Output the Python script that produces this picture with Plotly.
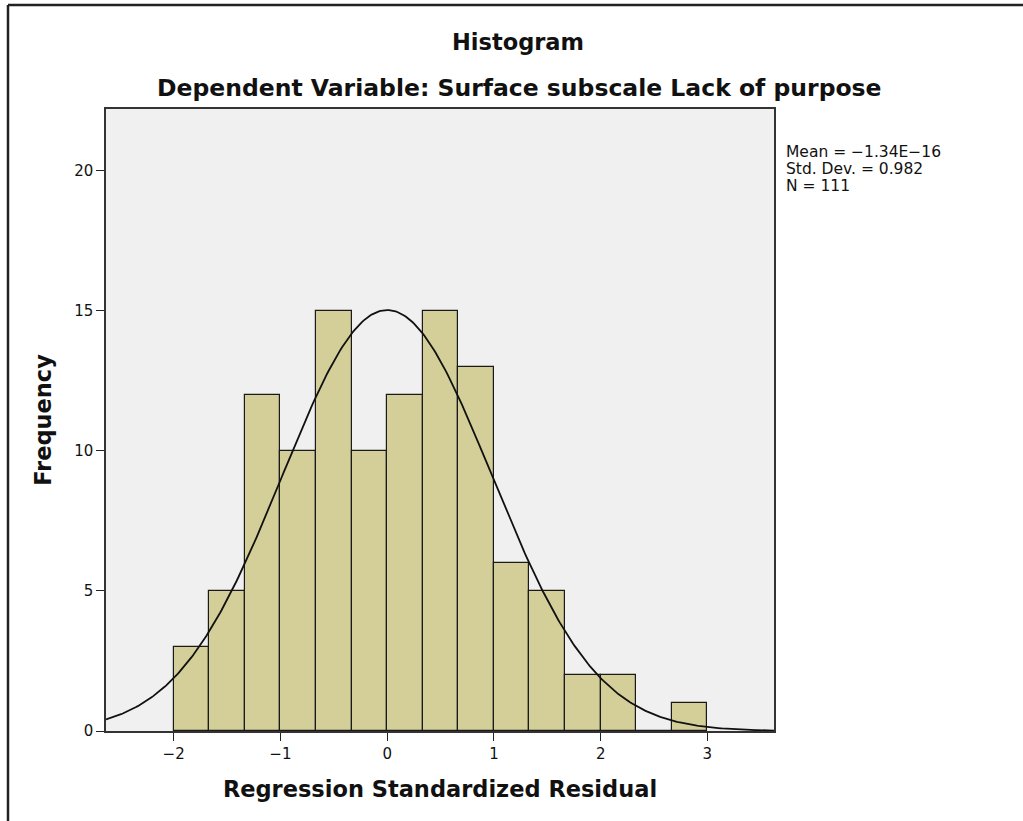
import numpy as np
import plotly.graph_objects as go

# Histogram of regression standardized residuals (bin width 1/3)
bin_left = [-2.0, -5/3, -4/3, -1.0, -2/3, -1/3, 0.0, 1/3, 2/3, 1.0, 4/3, 5/3, 2.0, 7/3, 8/3]
frequency = [3, 5, 12, 10, 15, 10, 12, 15, 13, 6, 5, 2, 2, 0, 1]
bin_width = 1/3

# Summary statistics shown beside the plot
mean_val = -1.34e-16
std_dev = 0.982
n_obs = 111
stats_lines = ["Mean = −1.34E−16", f"Std. Dev. = {std_dev:.3f}", f"N = {n_obs}"]

x_ticks = [-2, -1, 0, 1, 2, 3]
y_ticks = [0, 5, 10, 15, 20]

W, H = 1023, 821
L, R, T, B = 106, 774, 109, 731  # plot area in pixels

centers = [b + bin_width / 2 for b in bin_left]

fig = go.Figure()
fig.add_trace(go.Bar(
    x=centers, y=frequency, width=bin_width,
    marker=dict(color="#d4cf98", line=dict(color="#1a1a1a", width=1.2)),
    hoverinfo="x+y", showlegend=False,
))

# Normal curve scaled to counts per bin
xs = np.linspace(-2.634, 3.624, 400)
peak = n_obs * bin_width / (std_dev * np.sqrt(2 * np.pi))
ys = peak * np.exp(-((xs - mean_val) ** 2) / (2 * std_dev ** 2))
fig.add_trace(go.Scatter(x=xs, y=ys, mode="lines",
                         line=dict(color="#111111", width=1.8),
                         hoverinfo="skip", showlegend=False))

def px_x(p):
    return (p - L) / (R - L)

def px_y(p):
    return (B - p) / (B - T)

fig.add_annotation(text="<b>Histogram</b>", x=px_x(518), y=px_y(42),
                   xref="paper", yref="paper", showarrow=False,
                   xanchor="center", yanchor="middle",
                   font=dict(family="DejaVu Sans", size=22.5, color="#111111"))
fig.add_annotation(text="<b>Dependent Variable: Surface subscale Lack of purpose</b>",
                   x=px_x(519), y=px_y(88), xref="paper", yref="paper",
                   showarrow=False, xanchor="center", yanchor="middle",
                   font=dict(family="DejaVu Sans", size=23.5, color="#111111"))

for i, line in enumerate(stats_lines):
    fig.add_annotation(text=line, x=px_x(784), y=px_y(152 + 17 * i),
                       xref="paper", yref="paper", showarrow=False,
                       xanchor="left", yanchor="middle", align="left",
                       font=dict(family="DejaVu Sans", size=15.5, color="#111111"))

# Outer frame (left and top edges)
fig.add_shape(type="line", xref="paper", yref="paper",
              x0=px_x(8), y0=px_y(5), x1=px_x(1030), y1=px_y(5),
              line=dict(color="#222222", width=2.5))
fig.add_shape(type="line", xref="paper", yref="paper",
              x0=px_x(8), y0=px_y(5), x1=px_x(8), y1=px_y(830),
              line=dict(color="#222222", width=2.5))

axis_common = dict(
    showgrid=False, zeroline=False, showline=True, linecolor="#333333",
    linewidth=1.5, mirror=True, ticks="outside", ticklen=8, tickwidth=1.2,
    tickcolor="#222222",
    tickfont=dict(family="DejaVu Sans", size=15, color="#111111"),
)

axis_title_font = dict(family="DejaVu Sans", size=22.5, color="#111111")

fig.update_layout(
    width=W, height=H,
    margin=dict(l=L, r=W - R, t=T, b=H - B, pad=0),
    paper_bgcolor="white", plot_bgcolor="#f0f0f0",
    bargap=0,
    xaxis=dict(range=[-2.634, 3.624], tickvals=x_ticks,
               title=dict(text="<b>Regression Standardized Residual</b>",
                          font=axis_title_font, standoff=19),
               **axis_common),
    yaxis=dict(range=[0, 22.21], tickvals=y_ticks,
               title=dict(text="<b>Frequency</b>",
                          font=axis_title_font, standoff=16),
               **axis_common),
)

fig.write_html("out.html")
